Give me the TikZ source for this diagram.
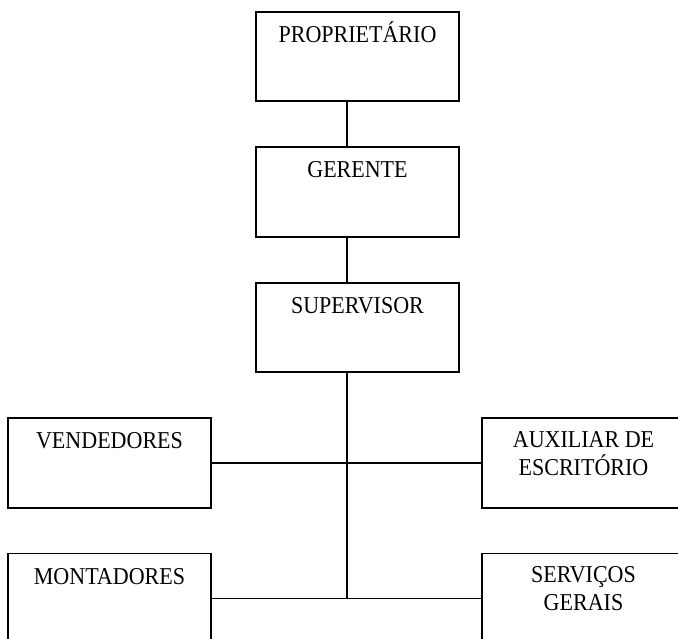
\documentclass[tikz,border=0pt]{standalone}
\usepackage{fontspec}
\setmainfont{Liberation Serif}[FakeStretch=0.91]
\begin{document}
\begin{tikzpicture}[x=1pt,y=-1pt,
  orgbox/.style={draw=black, line width=1.8pt, rectangle, minimum width=203pt, inner sep=0pt},
  lbl/.style={inner sep=0pt, font=\fontsize{24.2}{28}\selectfont, align=center},
  link/.style={draw=black, line width=1.8pt}]
  \clip (0,0) rectangle (678,639);
  \fill[white] (0,0) rectangle (678,639);

  % vertical trunk of the chart
  \coordinate (trunk) at (347,0);

  % boxes
  \node[orgbox, minimum height=89pt] (prop) at (357.5,56.5) {};
  \node[orgbox, minimum height=90pt] (ger)  at (357.5,192) {};
  \node[orgbox, minimum height=89pt] (sup)  at (357.5,327.5) {};
  \node[orgbox, minimum height=90pt] (vend) at (109.5,463) {};
  \node[orgbox, minimum height=90pt] (aux)  at (583.5,463) {};
  \node[orgbox, minimum height=90pt] (mont) at (109.5,598.5) {};
  \node[orgbox, minimum height=90pt] (serv) at (583.5,598.5) {};

  % labels, set near the top of each box
  \node[lbl, anchor=base] (tprop) at ([yshift=-31pt]prop.north) {PROPRIETÁRIO};
  \node[lbl, anchor=base] (tger)  at ([yshift=-31pt]ger.north) {GERENTE};
  \node[lbl, anchor=base] (tsup)  at ([yshift=-31pt]sup.north) {SUPERVISOR};
  \node[lbl, anchor=base] (tvend) at ([yshift=-31pt]vend.north) {VENDEDORES};
  \node[lbl, anchor=base] (tmont) at ([yshift=-32pt]mont.north) {MONTADORES};
  \node[lbl, anchor=north] (taux) at ([yshift=-14pt]aux.north) {AUXILIAR DE\\ESCRITÓRIO};
  \node[lbl, anchor=north] (tserv) at ([yshift=-14pt]serv.north) {SERVIÇOS\\GERAIS};

  % connectors
  \draw[link] (prop.south -| trunk) -- (ger.north -| trunk);
  \draw[link] (ger.south -| trunk) -- (sup.north -| trunk);
  \draw[link] (sup.south -| trunk) -- (mont.east -| trunk);
  \draw[link] (vend.east) -- (aux.west);
  \draw[link] (mont.east) -- (serv.west);
\end{tikzpicture}
\end{document}
